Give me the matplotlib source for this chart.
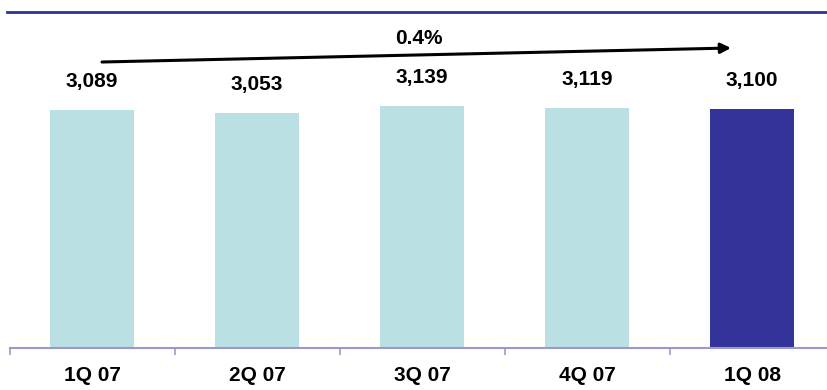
import matplotlib
matplotlib.use("Agg")
import matplotlib.pyplot as plt
from matplotlib.lines import Line2D

quarters = ["1Q 07", "2Q 07", "3Q 07", "4Q 07", "1Q 08"]
values = [3089, 3053, 3139, 3119, 3100]
growth_label = "0.4%"

light = "#BBE0E3"
dark = "#333399"
axis_col = "#9999CC"

plt.rcParams["font.family"] = ["Liberation Sans", "DejaVu Sans"]

fig = plt.figure(figsize=(8.27, 3.9), dpi=100)
# axis runs a little past the right edge of the canvas
ax = fig.add_axes([9.5 / 827, 1 - 348 / 390, 825 / 827, 348 / 390])
ymax = 348 / 0.0771
ax.set_xlim(-0.5, 4.5)
ax.set_ylim(0, ymax)

colors = [light] * (len(values) - 1) + [dark]
x = list(range(len(values)))
ax.bar(x, values, width=0.51, color=colors)

for xi, v in zip(x, values):
    ax.annotate(f"{v:,}", (xi, v), xytext=(0, 13.5), textcoords="offset points",
                ha="center", va="bottom", fontsize=15, fontweight="bold")

for s in ["top", "left", "right"]:
    ax.spines[s].set_visible(False)
ax.spines["bottom"].set_color(axis_col)
ax.spines["bottom"].set_linewidth(1.5)
ax.set_yticks([])
ax.set_xticks([i - 0.5 for i in range(len(values))])
ax.set_xticklabels([])
ax.tick_params(axis="x", direction="out", length=5, width=1.2, color=axis_col)
for xi, q in zip(x, quarters):
    ax.annotate(q, (xi, 0), xytext=(0, -19.5), textcoords="offset points",
                ha="center", va="center", fontsize=15, fontweight="bold")

# overall trend arrow
x0 = (102 - 9.5) / 165 - 0.5
x1 = (731 - 9.5) / 165 - 0.5
ax.annotate("", xy=(x1, (348 - 48) / 0.0771), xytext=(x0, (348 - 62) / 0.0771),
            arrowprops=dict(arrowstyle="-|>,head_length=0.6,head_width=0.3",
                            color="black", lw=2.2, shrinkA=0, shrinkB=0))
ax.text((419 - 9.5) / 165 - 0.5, (348 - 38) / 0.0771, growth_label,
        ha="center", va="center", fontsize=15, fontweight="bold")

# header rule
fig.add_artist(Line2D([7 / 827, 1], [1 - 12 / 390] * 2, color="#2E3192", lw=2,
                      transform=fig.transFigure))

fig.savefig("out.png", dpi=100)
